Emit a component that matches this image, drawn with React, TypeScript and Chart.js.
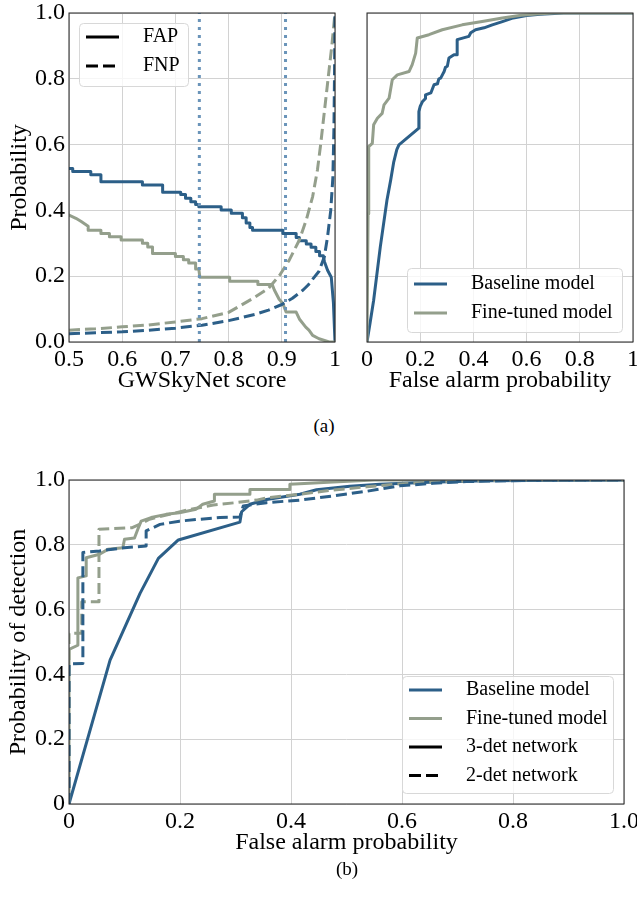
import React, { useEffect, useRef } from "react";
import { Chart, registerables } from "chart.js";
Chart.register(...registerables);

const BLUE = "#2c5f88";
const SAGE = "#949f8c";
const DOT = "#6a94b9";
const GRID = "#d2d2d2";
const FONT = "'Liberation Serif', 'Times New Roman', serif";

// ---------- panel (a) left: FAP / FNP vs score ----------
const scoreTicks = [0.5, 0.6, 0.7, 0.8, 0.9, 1];
const scoreTickLabels = ["0.5", "0.6", "0.7", "0.8", "0.9", "1"];
const probTicks = [0, 0.2, 0.4, 0.6, 0.8, 1];
const probTickLabelsA = ["0.0", "0.2", "0.4", "0.6", "0.8", "1.0"];
const thresholds = [0.745, 0.907];

const baselineFAP: number[][] = [
  [0.5, 0.527], [0.507, 0.527], [0.507, 0.518], [0.541, 0.518], [0.541, 0.508], [0.56, 0.508],
  [0.56, 0.487], [0.638, 0.487], [0.638, 0.477], [0.676, 0.477], [0.676, 0.455], [0.71, 0.455],
  [0.71, 0.448], [0.719, 0.448], [0.719, 0.437], [0.729, 0.437], [0.729, 0.426], [0.738, 0.426],
  [0.738, 0.418], [0.744, 0.418], [0.744, 0.411], [0.786, 0.411], [0.786, 0.401], [0.805, 0.401],
  [0.805, 0.391], [0.826, 0.391], [0.826, 0.378], [0.833, 0.378], [0.833, 0.362], [0.84, 0.362],
  [0.84, 0.348], [0.845, 0.348], [0.845, 0.34], [0.902, 0.34], [0.902, 0.33], [0.927, 0.33],
  [0.927, 0.318], [0.933, 0.318], [0.933, 0.308], [0.946, 0.308], [0.946, 0.298], [0.955, 0.298],
  [0.955, 0.288], [0.964, 0.288], [0.964, 0.275], [0.971, 0.275], [0.971, 0.262], [0.978, 0.262],
  [0.98, 0.245], [0.986, 0.218], [0.993, 0.197], [0.997, 0.12], [1.0, 0.0],
];
const finetunedFAP: number[][] = [
  [0.5, 0.386], [0.513, 0.376], [0.523, 0.366], [0.536, 0.352], [0.536, 0.34], [0.56, 0.34],
  [0.56, 0.33], [0.576, 0.33], [0.576, 0.32], [0.598, 0.32], [0.598, 0.31], [0.638, 0.31],
  [0.638, 0.3], [0.648, 0.3], [0.648, 0.289], [0.657, 0.289], [0.657, 0.269], [0.7, 0.269],
  [0.7, 0.26], [0.715, 0.26], [0.715, 0.25], [0.725, 0.25], [0.725, 0.24], [0.738, 0.24],
  [0.738, 0.222], [0.744, 0.222], [0.746, 0.197], [0.802, 0.197], [0.802, 0.185], [0.855, 0.185],
  [0.855, 0.175], [0.882, 0.175], [0.886, 0.158], [0.895, 0.13], [0.902, 0.117], [0.908, 0.091],
  [0.927, 0.091], [0.933, 0.07], [0.945, 0.045], [0.951, 0.036], [0.958, 0.02], [0.97, 0.01],
  [0.989, 0.0], [1.0, 0.0],
];
const baselineFNP: number[][] = [
  [0.5, 0.025], [0.55, 0.028], [0.6, 0.031], [0.65, 0.036], [0.7, 0.042], [0.75, 0.051],
  [0.8, 0.065], [0.85, 0.084], [0.875, 0.097], [0.9, 0.114], [0.92, 0.133], [0.94, 0.158],
  [0.95, 0.174], [0.96, 0.195], [0.97, 0.215], [0.98, 0.259], [0.986, 0.32], [0.992, 0.4],
  [0.996, 0.5], [0.998, 0.65], [0.999, 0.8], [1.0, 1.0],
];
const finetunedFNP: number[][] = [
  [0.5, 0.036], [0.55, 0.04], [0.6, 0.046], [0.65, 0.052], [0.7, 0.061], [0.75, 0.071],
  [0.8, 0.09], [0.845, 0.132], [0.875, 0.163], [0.896, 0.203], [0.914, 0.249], [0.933, 0.31],
  [0.946, 0.371], [0.958, 0.442], [0.967, 0.523], [0.973, 0.6], [0.98, 0.7], [0.987, 0.8],
  [0.994, 0.9], [1.0, 1.0],
];

// ---------- panel (a) right: ROC ----------
const farTicks = [0, 0.2, 0.4, 0.6, 0.8, 1];
const farTickLabelsA = ["0", "0.2", "0.4", "0.6", "0.8", "1"];
const rocBaseline: number[][] = [
  [0, 0], [0.012, 0.06], [0.025, 0.127], [0.05, 0.289], [0.075, 0.431], [0.089, 0.492],
  [0.1, 0.545], [0.112, 0.585], [0.12, 0.599], [0.195, 0.65], [0.195, 0.7], [0.2, 0.716],
  [0.208, 0.73], [0.22, 0.74], [0.22, 0.751], [0.24, 0.757], [0.252, 0.782], [0.265, 0.785],
  [0.27, 0.8], [0.277, 0.802], [0.29, 0.822], [0.295, 0.835], [0.302, 0.838], [0.308, 0.863],
  [0.327, 0.873], [0.339, 0.873], [0.339, 0.919], [0.383, 0.929], [0.39, 0.94], [0.408, 0.949],
  [0.44, 0.955], [0.471, 0.964], [0.509, 0.974], [0.55, 0.985], [0.6, 0.992], [0.65, 0.996],
  [0.74, 1.0], [1.0, 1.0],
];
const rocFinetuned: number[][] = [
  [0, 0], [0.004, 0.39], [0.006, 0.4], [0.007, 0.594], [0.02, 0.604], [0.025, 0.66],
  [0.039, 0.68], [0.057, 0.695], [0.064, 0.721], [0.083, 0.741], [0.095, 0.797], [0.114, 0.812],
  [0.158, 0.822], [0.17, 0.843], [0.183, 0.878], [0.189, 0.924], [0.233, 0.934], [0.283, 0.949],
  [0.358, 0.964], [0.433, 0.974], [0.509, 0.985], [0.58, 0.993], [0.65, 0.998], [0.7, 1.0],
  [1.0, 1.0],
];

// ---------- panel (b): detection vs false alarm ----------
const bXTickLabels = ["0", "0.2", "0.4", "0.6", "0.8", "1.0"];
const bYTickLabels = ["0", "0.2", "0.4", "0.6", "0.8", "1.0"];
const baseline3det: number[][] = [
  [0, 0], [0.074, 0.444], [0.128, 0.65], [0.161, 0.758], [0.197, 0.815], [0.308, 0.87],
  [0.311, 0.902], [0.326, 0.925], [0.356, 0.94], [0.416, 0.956], [0.446, 0.97], [0.506, 0.981],
  [0.56, 0.987], [0.65, 0.993], [0.75, 0.998], [1.0, 1.0],
];
const finetuned3det: number[][] = [
  [0, 0], [0, 0.477], [0.016, 0.49], [0.016, 0.698], [0.031, 0.704], [0.031, 0.76],
  [0.055, 0.771], [0.07, 0.786], [0.097, 0.791], [0.1, 0.817], [0.118, 0.821], [0.124, 0.848],
  [0.13, 0.873], [0.148, 0.884], [0.175, 0.894], [0.199, 0.899], [0.229, 0.91], [0.241, 0.925],
  [0.262, 0.935], [0.262, 0.956], [0.326, 0.956], [0.326, 0.971], [0.398, 0.971], [0.398, 0.987],
  [0.476, 0.994], [0.55, 1.0], [1.0, 1.0],
];
const baseline2det: number[][] = [
  [0, 0], [0, 0.432], [0.025, 0.434], [0.025, 0.776], [0.055, 0.781], [0.1, 0.791],
  [0.139, 0.796], [0.139, 0.843], [0.164, 0.863], [0.199, 0.873], [0.236, 0.879], [0.272, 0.884],
  [0.308, 0.886], [0.314, 0.92], [0.356, 0.93], [0.416, 0.938], [0.476, 0.951], [0.536, 0.965],
  [0.596, 0.982], [0.656, 0.99], [0.716, 0.995], [0.85, 1.0], [1.0, 1.0],
];
const finetuned2det: number[][] = [
  [0, 0], [0, 0.527], [0.023, 0.527], [0.023, 0.624], [0.054, 0.624], [0.054, 0.848],
  [0.114, 0.853], [0.127, 0.863], [0.145, 0.879], [0.212, 0.907], [0.26, 0.923], [0.3, 0.93],
  [0.338, 0.938], [0.356, 0.945], [0.416, 0.956], [0.476, 0.969], [0.536, 0.979], [0.596, 0.988],
  [0.668, 0.995], [0.8, 1.0], [1.0, 1.0],
];

const DASH = [11, 5];
const DOTS = [3, 5];

const pts = (arr: number[][]) => arr.map(([x, y]) => ({ x, y }));

const line = (data: number[][], color: string, dash: number[] = []) => ({
  data: pts(data),
  borderColor: color,
  borderWidth: 3,
  borderDash: dash,
  borderCapStyle: dash.length ? "butt" : "round",
  borderJoinStyle: "round",
  pointRadius: 0,
  fill: false,
  tension: 0,
});

const makeScale = (
  min: number, max: number, values: number[], labels: string[] | null,
  title: string | null, size: number, isY: boolean, titlePad: number
) => ({
  type: "linear",
  min, max,
  position: isY ? "left" : "bottom",
  afterBuildTicks: (s: any) => { s.ticks = values.map((v) => ({ value: v })); },
  afterFit: (s: any) => {
    if (isY) { s.width = size; s.paddingTop = 0; s.paddingBottom = 0; }
    else { s.height = size; s.paddingLeft = 0; s.paddingRight = 0; }
  },
  grid: { color: GRID, lineWidth: 1, drawTicks: false },
  border: { display: false },
  ticks: {
    display: !!labels,
    autoSkip: false,
    maxRotation: 0,
    padding: isY ? 4 : 3,
    color: "#000",
    font: { family: FONT, size: 24 },
    callback: (_v: any, i: number) => (labels ? labels[i] : ""),
  },
  title: {
    display: !!title,
    text: title || "",
    color: "#000",
    font: { family: FONT, size: 24 },
    padding: isY ? { top: titlePad, bottom: 0 } : { top: 0, bottom: titlePad },
  },
});

const framePlugin = {
  id: "frame",
  afterDraw(chart: any) {
    const { ctx, chartArea: a } = chart;
    ctx.save();
    ctx.strokeStyle = "#222";
    ctx.lineWidth = 1;
    ctx.strokeRect(a.left, a.top, a.right - a.left, a.bottom - a.top);
    ctx.restore();
  },
};

type Entry = { label: string; color: string; dash?: number[] };
const makeLegend = (cfg: {
  corner: "tl" | "br"; dx: number; dy: number; w: number; h: number;
  first: number; gap: number; entries: Entry[];
}) => ({
  id: "boxLegend",
  afterDraw(chart: any) {
    const { ctx, chartArea: a } = chart;
    const x = cfg.corner === "tl" ? a.left + cfg.dx : a.right - cfg.dx - cfg.w;
    const y = cfg.corner === "tl" ? a.top + cfg.dy : a.bottom - cfg.dy - cfg.h;
    ctx.save();
    ctx.beginPath();
    if (ctx.roundRect) ctx.roundRect(x + 0.5, y + 0.5, cfg.w, cfg.h, 4);
    else ctx.rect(x + 0.5, y + 0.5, cfg.w, cfg.h);
    ctx.fillStyle = "rgba(255,255,255,0.8)";
    ctx.fill();
    ctx.strokeStyle = "#d8d8d8";
    ctx.lineWidth = 1;
    ctx.stroke();
    cfg.entries.forEach((e, i) => {
      const cy = y + cfg.first + i * cfg.gap;
      ctx.beginPath();
      ctx.setLineDash(e.dash || []);
      ctx.lineCap = "butt";
      ctx.strokeStyle = e.color;
      ctx.lineWidth = 3;
      ctx.moveTo(x + 7, cy);
      ctx.lineTo(x + 40, cy);
      ctx.stroke();
      ctx.setLineDash([]);
      ctx.fillStyle = "#000";
      ctx.font = `20px ${FONT}`;
      ctx.textBaseline = "middle";
      ctx.textAlign = "left";
      ctx.fillText(e.label, x + 64, cy);
    });
    ctx.restore();
  },
});

const baseOptions = (padding: any, scales: any) => ({
  responsive: false,
  animation: false,
  devicePixelRatio: 1,
  layout: { padding },
  plugins: { legend: { display: false }, tooltip: { enabled: false } },
  scales,
});

const buildTopLeft = () => ({
  type: "line",
  data: {
    datasets: [
      ...thresholds.map((t) => line([[t, 0], [t, 1]], DOT, DOTS)),
      line(baselineFNP, BLUE, DASH),
      line(finetunedFNP, SAGE, DASH),
      line(finetunedFAP, SAGE),
      line(baselineFAP, BLUE),
    ],
  },
  options: baseOptions(
    { left: 0, right: 10, top: 13, bottom: 0 },
    {
      x: makeScale(0.5, 1, scoreTicks, scoreTickLabels, "GWSkyNet score", 58, false, 5),
      y: makeScale(0, 1, probTicks, probTickLabelsA, "Probability", 69, true, 5),
    }
  ),
  plugins: [
    framePlugin,
    makeLegend({
      corner: "tl", dx: 10, dy: 10, w: 109, h: 63, first: 14, gap: 29,
      entries: [
        { label: "FAP", color: "#000" },
        { label: "FNP", color: "#000", dash: [12, 5] },
      ],
    }),
  ],
});

const buildTopRight = () => ({
  type: "line",
  data: {
    datasets: [line(rocFinetuned, SAGE), line(rocBaseline, BLUE)],
  },
  options: baseOptions(
    { left: 0, right: 4, top: 13, bottom: 0 },
    {
      x: makeScale(0, 1, farTicks, farTickLabelsA, "False alarm probability", 58, false, 5),
      y: makeScale(0, 1, probTicks, null, null, 22, true, 0),
    }
  ),
  plugins: [
    framePlugin,
    makeLegend({
      corner: "br", dx: 11, dy: 10, w: 215, h: 64, first: 16, gap: 29,
      entries: [
        { label: "Baseline model", color: BLUE },
        { label: "Fine-tuned model", color: SAGE },
      ],
    }),
  ],
});

const buildBottom = () => ({
  type: "line",
  data: {
    datasets: [
      line(baseline2det, BLUE, DASH),
      line(finetuned2det, SAGE, DASH),
      line(baseline3det, BLUE),
      line(finetuned3det, SAGE),
    ],
  },
  options: baseOptions(
    { left: 0, right: 13, top: 40, bottom: 0 },
    {
      x: makeScale(0, 1, farTicks, bXTickLabels, "False alarm probability", 56, false, 3),
      y: makeScale(0, 1, probTicks, bYTickLabels, "Probability of detection", 69, true, 4),
    }
  ),
  plugins: [
    framePlugin,
    makeLegend({
      corner: "br", dx: 11, dy: 11, w: 211, h: 117, first: 14, gap: 28.5,
      entries: [
        { label: "Baseline model", color: BLUE },
        { label: "Fine-tuned model", color: SAGE },
        { label: "3-det network", color: "#000" },
        { label: "2-det network", color: "#000", dash: [12, 5] },
      ],
    }),
  ],
});

function ChartCanvas(props: { left: number; top: number; width: number; height: number; build: () => any }) {
  const ref = useRef<HTMLCanvasElement>(null);
  useEffect(() => {
    const chart = new Chart(ref.current as HTMLCanvasElement, props.build());
    return () => chart.destroy();
  }, []);
  return (
    <canvas
      ref={ref}
      width={props.width}
      height={props.height}
      style={{ position: "absolute", left: props.left, top: props.top, width: props.width, height: props.height }}
    />
  );
}

const captionStyle = (x: number, y: number): React.CSSProperties => ({
  position: "absolute",
  left: x,
  top: y,
  transform: "translate(-50%, -50%)",
  fontFamily: FONT,
  fontSize: 19,
  color: "#000",
  lineHeight: 1,
});

export default function App() {
  return (
    <div style={{ position: "absolute", left: 0, top: 0, width: 637, height: 899, background: "#fff", overflow: "hidden" }}>
      <ChartCanvas left={0} top={0} width={345} height={400} build={buildTopLeft} />
      <ChartCanvas left={345} top={0} width={292} height={400} build={buildTopRight} />
      <ChartCanvas left={0} top={440} width={637} height={420} build={buildBottom} />
      <div style={captionStyle(324, 425)}>(a)</div>
      <div style={captionStyle(347, 868)}>(b)</div>
    </div>
  );
}
